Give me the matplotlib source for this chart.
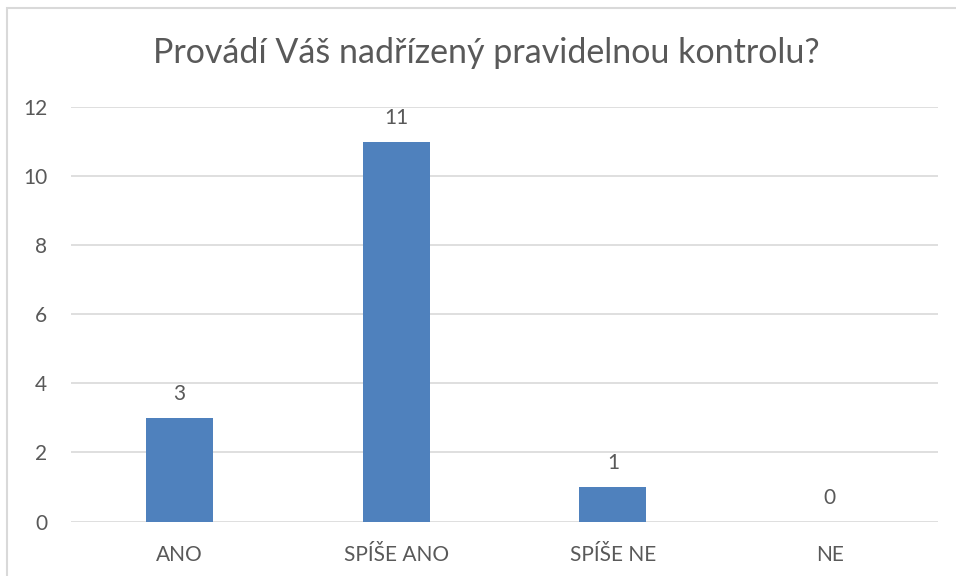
import matplotlib
matplotlib.use("Agg")
from matplotlib import pyplot as plt
from matplotlib.patches import Rectangle

categories = ["ANO", "SPÍŠE ANO", "SPÍŠE NE", "NE"]
counts = [3, 11, 1, 0]
title = "Provádí Váš nadřízený pravidelnou kontrolu?"
yticks = [0, 2, 4, 6, 8, 10, 12]

plt.rcParams["font.family"] = ["Lato", "DejaVu Sans"]
text_color = "#595959"
grid_color = "#D9D9D9"
bar_color = "#4F81BD"

fig = plt.figure(figsize=(9.56, 5.76), dpi=100)
W, H = 956, 576
ax = fig.add_axes([71 / W, (H - 521.5) / H, (938 - 71) / W, (521.5 - 107) / H])

x = list(range(len(categories)))
bars = ax.bar(x, counts, width=0.31, color=bar_color, zorder=3)
for xi, v in zip(x, counts):
    ax.text(xi, v + 0.68, str(v), ha="center", va="center", fontsize=15, color=text_color)

ax.set_xlim(-0.5, len(categories) - 0.5)
ax.set_ylim(0, 12)
ax.set_yticks(yticks)
ax.set_yticklabels([str(t) for t in yticks])
ax.set_xticks(x)
ax.set_xticklabels(categories)
ax.tick_params(axis="both", length=0, labelsize=15, labelcolor=text_color)
ax.tick_params(axis="y", pad=17)
ax.tick_params(axis="x", pad=17)
ax.yaxis.grid(True, color=grid_color, linewidth=1.2, zorder=0)
for s in ax.spines.values():
    s.set_visible(False)
ax.set_axisbelow(True)

fig.text(486 / W, 1 - 53 / H, title, ha="center", va="center", fontsize=24.5, color=text_color)

fig.patches.append(Rectangle((7 / W, -0.1), 1.2, 1 - 8 / H + 0.1, transform=fig.transFigure,
                             fill=False, edgecolor=grid_color, linewidth=1.5))

fig.savefig("out.png", dpi=100)
